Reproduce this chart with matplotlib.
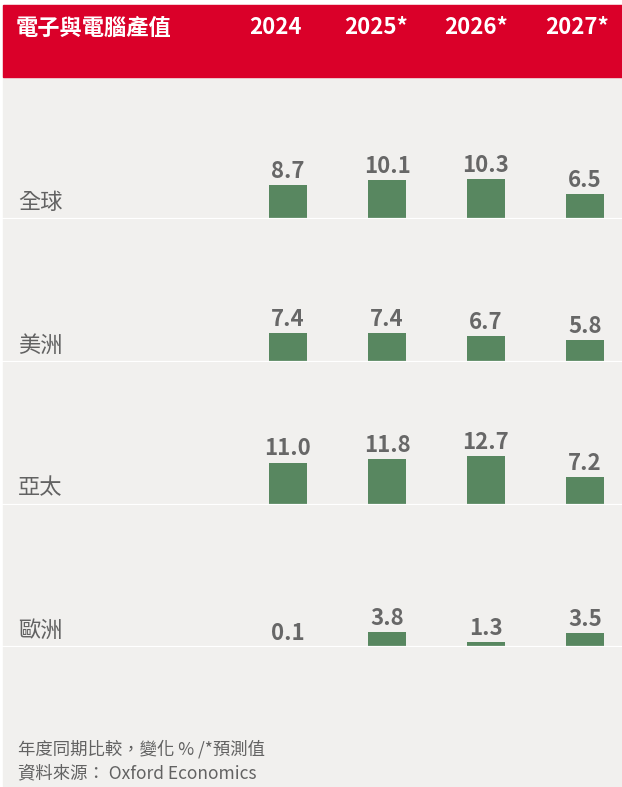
import matplotlib.pyplot as plt
from matplotlib.patches import Rectangle

plt.rcParams['font.family'] = ['Noto Sans CJK TC', 'DejaVu Sans']

# data
title = "電子與電腦產值"
years = ["2024", "2025*", "2026*", "2027*"]
regions = ["全球", "美洲", "亞太", "歐洲"]
global_vals = [8.7, 10.1, 10.3, 6.5]
americas_vals = [7.4, 7.4, 6.7, 5.8]
apac_vals = [11.0, 11.8, 12.7, 7.2]
europe_vals = [0.1, 3.8, 1.3, 3.5]
note1 = "年度同期比較，變化 % /*預測值"
note2 = "資料來源： Oxford Economics"

rows = [global_vals, americas_vals, apac_vals, europe_vals]

W, H = 622, 787
red = "#da0029"
green = "#588760"
grey_txt = "#626262"
bg = "#f1f0ee"

fig = plt.figure(figsize=(W / 100, H / 100), dpi=100, facecolor="white")

# background panel and header band
bgax = fig.add_axes([0, 0, 1, 1])
bgax.set_xlim(0, W)
bgax.set_ylim(H, 0)
bgax.axis("off")
bgax.add_patch(Rectangle((3, 5), W - 3, H - 5, color=bg, zorder=0))
bgax.add_patch(Rectangle((3, 5), W - 3, 72, color=red, zorder=1))
bgax.text(16, 28, title, color="white", fontsize=16, fontweight="bold", va="center", ha="left")
year_x = [275, 376, 476, 577]
for x, y in zip(year_x, years):
    bgax.text(x, 28, y, color="white", fontsize=16, fontweight="bold", va="center", ha="center")
bgax.text(18, 749, note1, color=grey_txt, fontsize=12.5, va="center", ha="left")
bgax.text(18, 773, note2, color=grey_txt, fontsize=12.5, va="center", ha="left")

# one axes per region row; pixel layout
baselines = [219, 362, 505, 647]
px_per_unit = 3.86
px_per_cat = 99
first_center = 288
row_h = 130
xs = list(range(len(years)))

for name, vals, base in zip(regions, rows, baselines):
    ax = fig.add_axes([0, (H - base) / H, 1, row_h / H])
    ax.set_xlim(-first_center / px_per_cat, (W - first_center) / px_per_cat)
    ax.set_ylim(0, row_h / px_per_unit)
    ax.axis("off")
    ax.bar(xs, vals, width=38 / px_per_cat, color=green, zorder=2)
    ax.axhline(0, xmin=3 / W, xmax=1, color="white", lw=1.6, zorder=3)
    for x, v in zip(xs, vals):
        ax.annotate(f"{v:.1f}", (x, v), xytext=(0, 1.5), textcoords="offset points",
                    ha="center", va="bottom", fontsize=16, color="#676767", fontweight="bold")
    ax.text(18 / px_per_cat + ax.get_xlim()[0], 17 / px_per_unit, name,
            fontsize=16, color=grey_txt, va="center", ha="left")

fig.savefig("out.png", dpi=100, facecolor=fig.get_facecolor())
